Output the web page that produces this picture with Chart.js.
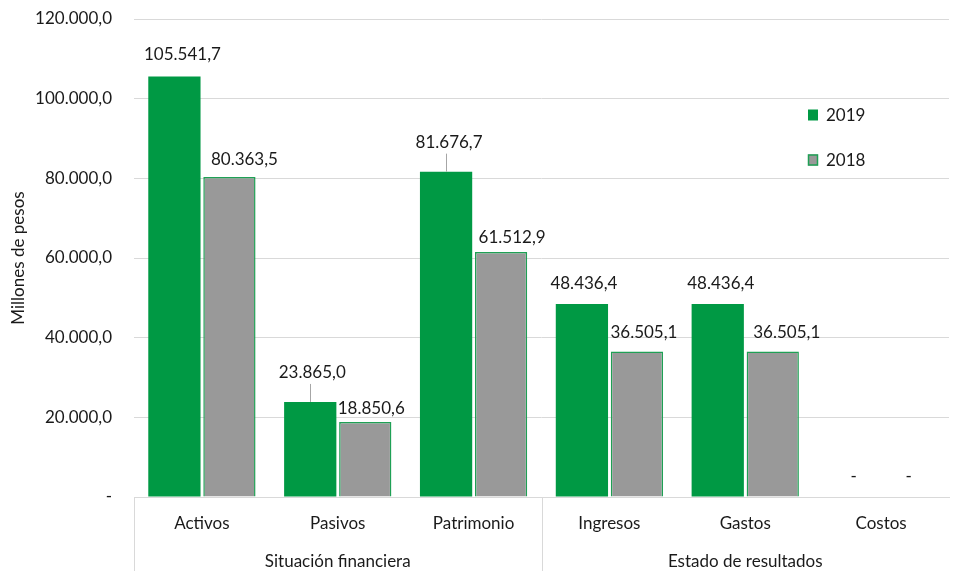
<!DOCTYPE html>
<html>
<head>
<meta charset="utf-8">
<script src="https://cdn.jsdelivr.net/npm/chart.js@4.4.0/dist/chart.umd.min.js"></script>
<style>
  html, body { margin: 0; padding: 0; background: #fff; }
  #wrap { width: 954px; height: 571px; }
</style>
</head>
<body>
<div id="wrap"><canvas id="chart" width="954" height="571"></canvas></div>
<script>
// data
var categories = ["Activos", "Pasivos", "Patrimonio", "Ingresos", "Gastos", "Costos"];
var groups = ["Situación financiera", "Estado de resultados"];
var groupSizes = [3, 3];
var values2019 = [105541.7, 23865.0, 81676.7, 48436.4, 48436.4, 0];
var values2018 = [80363.5, 18850.6, 61512.9, 36505.1, 36505.1, 0];
var yTicks = [0, 20000, 40000, 60000, 80000, 100000, 120000];
var seriesNames = ["2019", "2018"];

// label placement (pixels), like excel moved them
var labelLift = [[22, 29, 29, 21, 21, 20], [17, 13, 14, 19, 19, 20]];
var labelDx = [[8, 2, 3, 2, 3, 0], [15, 6, 11, 7, 14, 0]];
var leaderLabels = [[false, true, true, false, false, false], [false, false, false, false, false, false]];

var FONT = "Lato, 'Noto Sans', sans-serif";
var TEXT = "#1a1a1a";
var GREEN = "#009944";
var GRAY = "#999999";
var GRID = "#d9d9d9";

function fmt(v) {
  if (v === 0) return "-";
  var parts = v.toFixed(1).split(".");
  return parts[0].replace(/\B(?=(\d{3})+(?!\d))/g, ".") + "," + parts[1];
}

var labelsPlugin = {
  id: "barLabels",
  afterDatasetsDraw: function (chart) {
    var ctx = chart.ctx;
    ctx.save();
    ctx.font = "17px " + FONT;
    ctx.fillStyle = TEXT;
    ctx.textAlign = "center";
    ctx.textBaseline = "middle";
    chart.data.datasets.forEach(function (ds, di) {
      var meta = chart.getDatasetMeta(di);
      meta.data.forEach(function (bar, i) {
        var y = bar.y - labelLift[di][i];
        ctx.fillText(fmt(ds.data[i]), bar.x + labelDx[di][i], y);
        if (leaderLabels[di][i]) {
          ctx.strokeStyle = "#a6a6a6";
          ctx.lineWidth = 1;
          ctx.beginPath();
          ctx.moveTo(Math.round(bar.x) + 0.5, y + 11);
          ctx.lineTo(Math.round(bar.x) + 0.5, bar.y);
          ctx.stroke();
        }
      });
    });
    ctx.restore();
  }
};

var axisBoxPlugin = {
  id: "axisBox",
  afterDraw: function (chart) {
    var ctx = chart.ctx;
    var area = chart.chartArea;
    var step = (area.right - area.left) / categories.length;
    ctx.save();
    ctx.strokeStyle = GRID;
    ctx.lineWidth = 1;
    var idx = 0;
    var cuts = [0];
    groupSizes.forEach(function (n) { idx += n; cuts.push(idx); });
    cuts.forEach(function (c) {
      if (c === categories.length) return;
      var x = Math.round(area.left + c * step) + 0.5;
      ctx.beginPath();
      ctx.moveTo(x, area.bottom);
      ctx.lineTo(x, chart.height);
      ctx.stroke();
    });
    ctx.restore();
  }
};

var legendPlugin = {
  id: "sideLegend",
  afterDraw: function (chart) {
    var ctx = chart.ctx;
    ctx.save();
    ctx.font = "17px " + FONT;
    ctx.textBaseline = "middle";
    ctx.textAlign = "left";
    chart.data.datasets.forEach(function (ds, di) {
      var y = 115 + di * 45;
      ctx.fillStyle = ds.backgroundColor;
      ctx.fillRect(808, y - 5.5, 10, 11);
      if (ds.borderWidth) {
        ctx.strokeStyle = ds.borderColor;
        ctx.lineWidth = 1.5;
        ctx.strokeRect(808.5, y - 5, 9, 10);
      }
      ctx.fillStyle = TEXT;
      ctx.fillText(ds.label, 826, y + 1);
    });
    ctx.restore();
  }
};

var ctx = document.getElementById("chart").getContext("2d");
var chart = new Chart(ctx, {
  type: "bar",
  data: {
    labels: categories,
    datasets: [
      {
        label: seriesNames[0],
        data: values2019,
        backgroundColor: GREEN,
        borderColor: GREEN,
        borderWidth: 0,
        categoryPercentage: 0.81,
        barPercentage: 0.95
      },
      {
        label: seriesNames[1],
        data: values2018,
        backgroundColor: GRAY,
        borderColor: "#1fa055",
        borderWidth: 1.5,
        categoryPercentage: 0.81,
        barPercentage: 0.95
      }
    ]
  },
  options: {
    responsive: false,
    animation: false,
    layout: { padding: { top: 19, right: 5, left: 0, bottom: 0 } },
    plugins: {
      legend: { display: false },
      tooltip: { enabled: false }
    },
    scales: {
      x: {
        offset: true,
        grid: { display: false, drawTicks: false },
        border: { color: GRID },
        ticks: { font: { family: FONT, size: 17 }, color: TEXT, padding: 16, maxRotation: 0 },
        afterFit: function (s) { s.height = 40; }
      },
      x2: {
        type: "category",
        labels: groups,
        position: "bottom",
        offset: true,
        grid: { display: false, drawTicks: false },
        border: { display: false },
        ticks: { font: { family: FONT, size: 17 }, color: TEXT, padding: 14, maxRotation: 0 },
        afterFit: function (s) { s.height = 34; }
      },
      y: {
        min: 0,
        max: 120000,
        afterBuildTicks: function (s) { s.ticks = yTicks.map(function (v) { return { value: v }; }); },
        ticks: {
          callback: function (v) { return fmt(v); },
          font: { family: FONT, size: 17 },
          color: TEXT,
          padding: 22
        },
        grid: { color: GRID, drawTicks: false },
        border: { display: false },
        title: {
          display: true,
          text: "Millones de pesos",
          font: { family: FONT, size: 17 },
          color: TEXT,
          padding: { top: 8, bottom: 0 }
        },
        afterFit: function (s) {
          s.width = 134;
          // tick padding would otherwise push the plot top down
          s.paddingTop = 0;
          s.paddingBottom = 0;
        }
      }
    }
  },
  plugins: [labelsPlugin, axisBoxPlugin, legendPlugin]
});
</script>
</body>
</html>
